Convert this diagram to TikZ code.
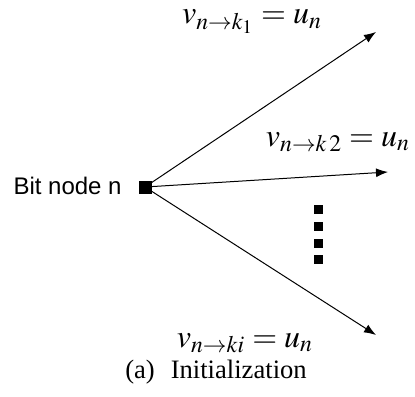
\documentclass[tikz,border=0pt]{standalone}
\usepackage{mathptmx}
\usepackage{fontspec}
\setmainfont{Liberation Serif}
\newfontfamily\arialfont{Liberation Sans}
\usetikzlibrary{arrows.meta}

\tikzset{
  msg/.style={-{Latex[length=6pt,width=4.5pt]},line width=0.5pt},
  bitsq/.style={fill=black,minimum size=6.5pt,inner sep=0pt},
  dotsq/.style={fill=black,minimum size=4.5pt,inner sep=0pt},
  lbl/.style={inner sep=0pt,font=\fontsize{16}{18}\selectfont}
}

\begin{document}
\begin{tikzpicture}[x=0.5pt,y=-0.5pt]
\useasboundingbox (0,0) rectangle (415,396);

\node[bitsq] (bit) at (145,187) {};
\node[anchor=east,inner sep=0pt,font=\arialfont\fontsize{12}{14}\selectfont] (bitlbl) at (122,186) {Bit node n};

\coordinate (t1) at (376,32);
\coordinate (t2) at (388,172);
\coordinate (t3) at (376,335);

\draw[msg] (bit) -- (t1);
\draw[msg] (bit) -- (t2);
\draw[msg] (bit) -- (t3);

\foreach \i/\y in {1/209,2/226,3/243,4/259}
  \node[dotsq] (dot\i) at (318,\y) {};

\node[lbl] (m1) at (252,22) {$v_{n\rightarrow k_1}=u_n$};
\node[lbl] (m2) at (338,142) {$v_{n\rightarrow k\,2}=u_n$};
\node[lbl] (m3) at (245,343) {$v_{n\rightarrow ki}=u_n$};

\node[inner sep=0pt,font=\fontsize{13.3}{15}\selectfont] (cap) at (216,372) {(a)\hspace{0.6em}Initialization};

\end{tikzpicture}
\end{document}
